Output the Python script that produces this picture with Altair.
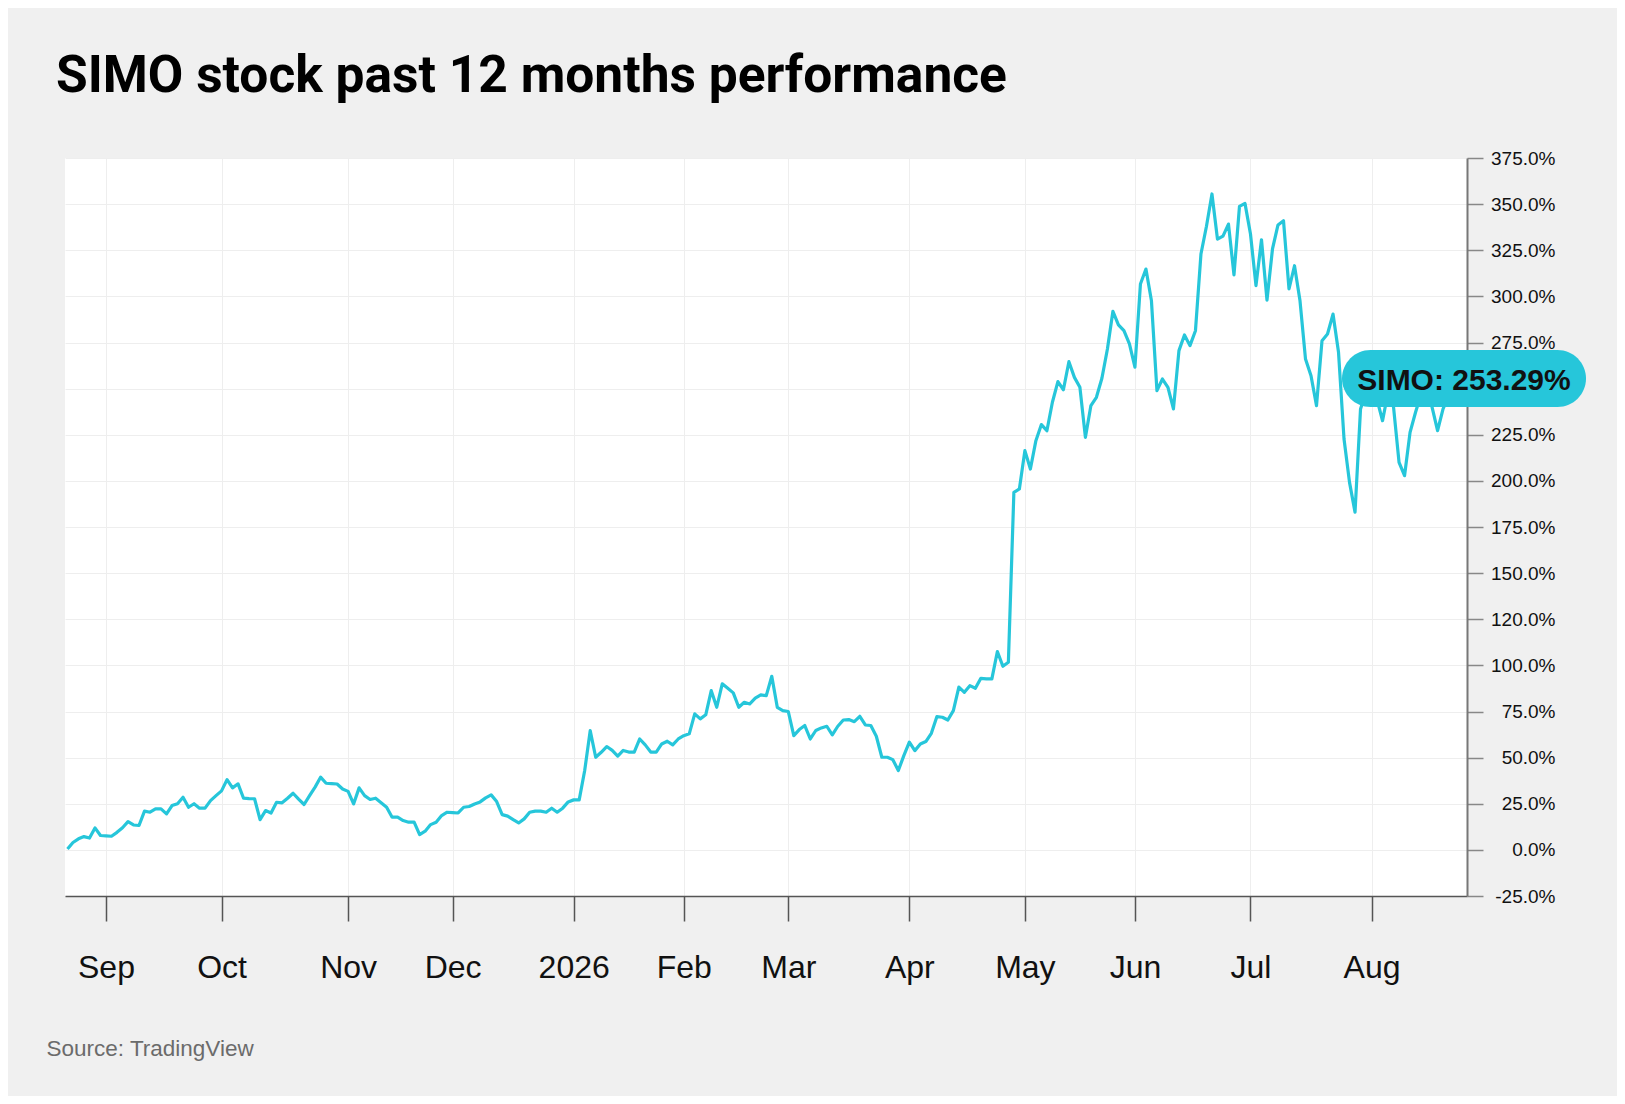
import json

import altair as alt
import pandas as pd

ticker = "SIMO"
title_text = "SIMO stock past 12 months performance"
source_text = "Source: TradingView"

# % change since the first session, one value per trading day
pct_change = [
    0.5, 4, 6, 7.2, 6.4, 11.9, 7.8, 7.6, 7.4, 9.5,
    12, 15.3, 13.5, 13.2, 21, 20.4, 22.2, 22.2, 19.5, 24,
    25, 28.5, 23.1, 25, 22.6, 22.6, 26.7, 29.4, 32, 38.1,
    33.6, 35.8, 28, 27.8, 27.7, 16.4, 21.3, 20, 25.8, 25.5,
    28, 30.7, 27.5, 24.6, 29.4, 34, 39.4, 36.1, 35.9, 35.7,
    33, 31.7, 24.9, 33.6, 29.4, 27.3, 28, 25.6, 23.1, 17.7,
    17.7, 15.9, 15, 15, 8.3, 10.1, 13.7, 15, 18.6, 20.4,
    20.2, 20, 23.1, 23.5, 24.9, 26, 28.2, 29.8, 26.2, 19.1,
    18.3, 16.4, 14.6, 16.8, 20.4, 21, 21, 20.4, 22.6, 20.4,
    22.6, 26, 27.1, 27.1, 43, 64.6, 50.2, 52.9, 56, 53.9,
    50.8, 53.9, 53, 53, 60.1, 56.9, 53, 53, 57.4, 58.9,
    56.9, 60.1, 61.9, 62.9, 73.7, 71, 73.2, 86.3, 77.3, 90,
    87.6, 85.1, 77.3, 80, 79.1, 82.2, 84, 83.6, 94.1, 77.3,
    75.5, 75, 61.9, 65.2, 67.4, 60.1, 64.7, 66.1, 67, 62.3,
    67, 70.4, 70.6, 69.5, 72.4, 67.7, 67.4, 61.6, 50.2, 50.2,
    48.9, 43, 51.1, 58.4, 53.8, 57.4, 58.7, 63.2, 72.2, 71.9,
    70.4, 75.5, 88.2, 85.4, 89, 87.6, 93, 92.7, 92.7, 107.5,
    99.5, 101.7, 193.8, 195.6, 216.4, 206.4, 221.8, 230.5, 227.2, 242.6,
    253.8, 249.4, 264.6, 256.1, 250.7, 223.6, 240.8, 245.3, 255.6, 271.5,
    291.9, 284.6, 281.4, 274.2, 261.6, 306.7, 314.8, 297.6, 248.9, 255.2,
    250.7, 239, 270.6, 279.1, 273.3, 281.4, 323, 338, 355.5, 331,
    332.7, 339.2, 311.7, 348.8, 350.4, 333.8, 305.8, 330.7, 298, 325.7,
    338.7, 341, 304, 316.6, 297.6, 266, 257, 240.8, 276, 279.6,
    290.4, 269.7, 222.7, 199.2, 183, 239, 248, 246, 244, 232.6,
    248, 240, 210, 202.8, 226.3, 237.2, 247, 249, 240, 227.2,
    239, 246, 253.29,
]

# first session of each month, as an index into pct_change
month_tick_idx = [7, 28, 51, 70, 92, 112, 131, 153, 174, 194, 215, 237]
month_labels = ["Sep", "Oct", "Nov", "Dec", "2026", "Feb", "Mar", "Apr", "May", "Jun", "Jul", "Aug"]

y_tick_values = [-25, 0, 25, 50, 75, 100, 125, 150, 175, 200, 225, 250, 275, 300, 325, 350, 375]
# the 250 label sits under the last-value badge, so it is left blank
y_tick_labels = [
    "-25.0%", "0.0%", "25.0%", "50.0%", "75.0%", "100.0%", "120.0%", "150.0%", "175.0%",
    "200.0%", "225.0%", "", "275.0%", "300.0%", "325.0%", "350.0%", "375.0%",
]

LINE = "#26c6da"


def lookup_expr(values, labels):
    return f"{json.dumps(labels)}[indexof({json.dumps(values)}, datum.value)]"


df = pd.DataFrame({"day": range(len(pct_change)), "pct": pct_change})
last = pct_change[-1]
badge = f"{ticker}: {last:.2f}%"

x_enc = alt.X(
    "day:Q",
    scale=alt.Scale(domain=[-0.45, 254.35], nice=False, zero=False),
    axis=alt.Axis(
        values=month_tick_idx,
        labelExpr=lookup_expr(month_tick_idx, month_labels),
        title=source_text,
        titleX=-19,
        titleY=159,
        titleAlign="left",
        titleBaseline="alphabetic",
        titleFont="Liberation Sans",
        titleFontSize=22.5,
        titleFontWeight="normal",
        titleColor="#6b6b6b",
        domainColor="#555555",
        domainWidth=1.5,
        tickColor="#555555",
        tickSize=25,
        tickWidth=1.5,
        labelFont="Liberation Sans",
        labelFontSize=32,
        labelColor="#111111",
        labelBaseline="alphabetic",
        labelPadding=56,
        labelFlush=False,
        labelOverlap=False,
        gridColor="#eeeeee",
        gridWidth=1,
    ),
)

y_enc = alt.Y(
    "pct:Q",
    scale=alt.Scale(domain=[-25, 375], nice=False, zero=False),
    axis=alt.Axis(
        orient="right",
        values=y_tick_values,
        labelExpr=lookup_expr(y_tick_values, y_tick_labels),
        title=None,
        domainColor="#777777",
        domainWidth=2,
        tickColor="#888888",
        tickSize=16,
        tickWidth=1.5,
        labelFont="Liberation Sans",
        labelFontSize=19,
        labelColor="#111111",
        labelAlign="right",
        labelPadding=72,
        labelFlush=False,
        labelOverlap=False,
        gridColor="#eeeeee",
        gridWidth=1,
    ),
)

line = (
    alt.Chart(df)
    .mark_line(color=LINE, strokeWidth=3.2, strokeJoin="round", clip=True)
    .encode(x=x_enc, y=y_enc)
)

pill = alt.Chart(df.tail(1)).mark_rect(
    color=LINE, cornerRadius=28.5, yOffset=-32.5, y2Offset=24.5
).encode(
    x=alt.value(1277),
    x2=alt.value(1521),
    y=alt.datum(last),
    y2=alt.datum(last),
)

pill_text = alt.Chart(df.tail(1)).mark_text(
    font="Liberation Sans",
    fontSize=30,
    fontWeight="bold",
    color="#111111",
    align="center",
    baseline="middle",
    dy=-2,
).encode(
    x=alt.value(1399),
    y=alt.datum(last),
    text=alt.value(badge),
)

chart = (
    alt.layer(line, pill, pill_text)
    .properties(
        width=1402,
        height=738,
        autosize=alt.AutoSizeParams(type="none"),
        padding={"left": 57, "top": 150, "right": 150, "bottom": 200},
        background="#f0f0f0",
        title=alt.TitleParams(
            title_text,
            anchor="start",
            frame="group",
            font="Roboto",
            fontSize=51.5,
            fontWeight="bold",
            color="#000000",
            offset=53,
            dx=-9,
            dy=6,
        ),
    )
    .configure_view(fill="white", strokeWidth=0)
)

chart.save("out.html", embed_options={"renderer": "svg", "actions": False})
